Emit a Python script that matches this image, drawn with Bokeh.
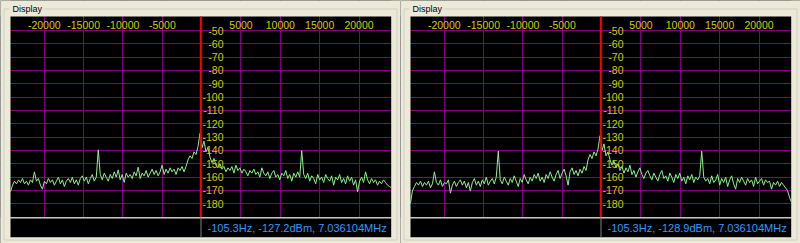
import numpy as np
from bokeh.plotting import figure
from bokeh.layouts import row
from bokeh.models import Range1d, FixedTicker
from bokeh.core.properties import value
from bokeh.embed import file_html
from bokeh.resources import INLINE

# ---------------- data ----------------
FREQ_TICKS = [-20000, -15000, -10000, -5000, 5000, 10000, 15000, 20000]
FREQ_TICK_LABELS = ["-20000", "-15000", "-10000", "-5000", "5000", "10000", "15000", "20000"]
DBM_TICKS = [-50, -60, -70, -80, -90, -100, -110, -120, -130, -140, -150, -160, -170, -180]
DBM_TICK_LABELS = [str(t) for t in DBM_TICKS]

BIN_START_HZ = -24295
BIN_END_HZ = 24129

LEFT_DBM = [
    -171, -166, -163, -165, -162, -164, -161, -165, -163, -166,
    -162, -164, -156, -163, -161, -166, -169, -163, -165, -161,
    -164, -162, -166, -163, -160, -165, -162, -167, -163, -161,
    -164, -160, -165, -162, -166, -161, -159, -163, -160, -165,
    -161, -158, -163, -160, -139.5, -158, -162, -157, -160, -163,
    -158, -161, -156, -160, -154.5, -162, -158, -164, -157, -160,
    -158, -161, -156, -159, -152.5, -161, -157, -159, -155, -160,
    -157, -154, -158, -155, -159, -156, -151, -158, -154, -157,
    -153, -156, -154, -158, -153, -155, -152, -156, -152, -147,
    -144, -146, -141, -143, -137, -127.2, -138, -133, -141, -138,
    -145, -149, -146, -151, -153, -150, -154, -152, -156, -153,
    -155, -152, -157, -151, -155, -153, -157, -154, -156, -159,
    -155, -157, -154, -158, -156, -160, -153, -157, -159, -156,
    -161, -157, -155, -160, -158, -162, -157, -159, -155, -161,
    -158, -163, -157, -160, -156, -160, -140, -158, -161, -157,
    -163, -159, -161, -165, -158, -162, -160, -164, -158, -161,
    -163, -159, -166, -160, -162, -158, -164, -161, -165, -159,
    -163, -160, -166, -162, -171, -163, -160, -164, -156, -162,
    -165, -161, -164, -162, -166, -163, -165, -162, -164, -166,
    -167, -168,
]

RIGHT_DBM = [
    -179.5, -170, -167, -164, -166, -163, -167, -164, -166, -163,
    -168, -165, -156, -164, -166, -162, -167, -164, -165, -162,
    -172, -166, -163, -167, -164, -162, -166, -163, -168, -164,
    -170.5, -164, -161, -166, -163, -167, -162, -165, -160, -166,
    -163, -161, -165, -160, -140.5, -162, -165, -160, -163, -166,
    -161, -164, -159, -163, -167, -161, -164, -158, -162, -165,
    -160, -163, -158, -161, -157, -163, -160, -164, -158, -161,
    -156, -160, -163, -158, -155, -161, -157, -154, -159, -166,
    -156, -153, -158, -155, -159, -154, -157, -152, -155, -147,
    -143, -146, -141, -144, -139, -128.9, -140, -135, -144, -141,
    -147, -151, -148, -153, -150, -155, -152, -157, -153, -156,
    -151, -158, -155, -160, -156, -153, -158, -161, -157, -155,
    -159, -162, -157, -160, -163, -158, -155, -161, -159, -163,
    -157, -160, -164, -158, -161, -157, -163, -160, -165, -159,
    -162, -158, -164, -160, -162, -159, -140.5, -160, -163, -161,
    -165, -159, -164, -162, -158, -166, -161, -164, -160, -167,
    -162, -159, -165, -169, -161, -164, -160, -163, -166, -161,
    -164, -162, -167, -160, -165, -163, -161, -166, -162, -164,
    -163, -169, -164, -166, -163, -167, -164, -166, -168, -170,
    -175, -179,
]

CURSOR_HZ = -105.3
LEFT_CURSOR_DBM = -127.2
RIGHT_CURSOR_DBM = -128.9
CURSOR_MHZ = "7.036104"
PANEL_TITLE = "Display"

# ---------------- styles / geometry ----------------
W, H = 400, 243
ZERO_PX = 201.15          # pixel column of 0 Hz
PX_PER_HZ = 0.007868
Y50_PX = 30.0             # pixel row of -50 dBm
PX_PER_DB = 1.33333

PLOT_L, PLOT_R, PLOT_T, PLOT_B = 10, 390.7, 16, 216.7
INFO_T, INFO_B = 218, 236.7

BEIGE = "#ece9d8"
PURPLE = "#800080"
YELLOW = "#cccc00"
GREEN = "#90ee90"
BLUE = "#3399ff"
FONT = value("Liberation Sans")


def make_panel(dbm, cursor_dbm):
    x_range = Range1d(-ZERO_PX / PX_PER_HZ, (W - ZERO_PX) / PX_PER_HZ)
    y_range = Range1d(-50 - (H - Y50_PX) / PX_PER_DB, -50 + Y50_PX / PX_PER_DB)
    p = figure(width=W, height=H, x_range=x_range, y_range=y_range,
               output_backend="svg", toolbar_location=None,
               x_axis_location=None, y_axis_location=None,
               min_border=0, background_fill_color="black",
               border_fill_color=BEIGE, outline_line_color=None)
    p.extra_x_ranges = {"px": Range1d(0, W)}
    p.extra_y_ranges = {"px": Range1d(H, 0)}

    p.xgrid.ticker = FixedTicker(ticks=FREQ_TICKS)
    p.ygrid.ticker = FixedTicker(ticks=DBM_TICKS)
    p.grid.grid_line_color = PURPLE
    p.grid.grid_line_width = 1
    p.grid.grid_line_alpha = 1

    px = dict(x_range_name="px", y_range_name="px")
    # beige surround of the black plot area
    p.quad(left=[0, 0, 0, PLOT_R], right=[W, W, PLOT_L, W],
           top=[0, PLOT_B, 0, 0], bottom=[PLOT_T, H, H, H],
           fill_color=BEIGE, line_color=None, **px)
    # separator + info bar + divider
    p.quad(left=[PLOT_L], right=[PLOT_R], top=[PLOT_B], bottom=[INFO_T],
           fill_color="#c8c8c8", line_color=None, **px)
    p.quad(left=[PLOT_L], right=[PLOT_R], top=[INFO_T], bottom=[INFO_B],
           fill_color="black", line_color=None, **px)
    p.quad(left=[200], right=[201], top=[INFO_T], bottom=[INFO_B],
           fill_color="#808080", line_color=None, **px)
    # group box
    p.quad(left=[3.5], right=[W - 3.5], top=[8.5], bottom=[H - 3.5],
           fill_color=None, line_color="#d0d0bf", line_width=1, **px)
    p.quad(left=[9], right=[43], top=[2], bottom=[15],
           fill_color=BEIGE, line_color=None, **px)
    p.text(x=[12], y=[8.8], text=[PANEL_TITLE], text_font=FONT,
           text_font_size=value("9px"), text_color="#000000",
           text_align="left", text_baseline="middle", **px)

    # spectrum
    freqs = np.linspace(BIN_START_HZ, BIN_END_HZ, len(dbm))
    p.line(x=freqs, y=dbm, line_color=GREEN, line_width=1)

    # cursor line
    p.segment(x0=[CURSOR_HZ], x1=[CURSOR_HZ], y0=[PLOT_T], y1=[PLOT_B],
              line_color="#ff0000", line_width=2, y_range_name="px")

    # tick labels (drawn inside the plot like the original)
    p.text(x=FREQ_TICKS, y=[24.5] * len(FREQ_TICKS), text=FREQ_TICK_LABELS,
           text_font=FONT, text_font_size=value("10.5px"), text_color=YELLOW,
           text_align="center", text_baseline="middle", y_range_name="px")
    p.text(x=[223] * len(DBM_TICKS), y=DBM_TICKS, text=DBM_TICK_LABELS,
           text_font=FONT, text_font_size=value("10.5px"), text_color=YELLOW,
           text_align="right", text_baseline="middle", x_range_name="px")

    info = f"{CURSOR_HZ}Hz, {cursor_dbm}dBm, {CURSOR_MHZ}MHz"
    p.text(x=[207], y=[(INFO_T + INFO_B) / 2], text=[info], text_font=FONT,
           text_font_size=value("11px"), text_color=BLUE,
           text_align="left", text_baseline="middle", **px)
    return p


left = make_panel(LEFT_DBM, LEFT_CURSOR_DBM)
right = make_panel(RIGHT_DBM, RIGHT_CURSOR_DBM)
layout = row(left, right)

open("out.html", "w").write(file_html(layout, INLINE))
